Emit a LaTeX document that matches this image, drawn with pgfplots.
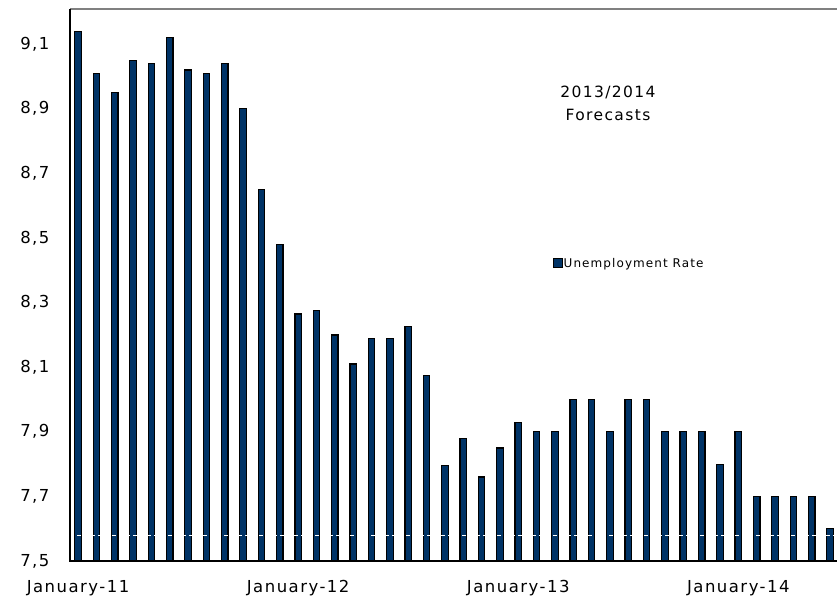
\documentclass[border=0pt]{standalone}
\usepackage{pgfplots}
\pgfplotsset{compat=1.18}
\usepackage{fontspec}
\setmainfont{DejaVu Sans}[LetterSpace=9]
\definecolor{navy}{RGB}{0,51,102}

\begin{document}
\begin{tikzpicture}
\useasboundingbox (0,0) rectangle (837pt,598pt);
\begin{axis}[
    at={(70pt,37pt)}, anchor=south west,
    scale only axis,
    width=767pt, height=552pt,
    xmin=-0.44, xmax=41.38,
    ymin=7.5, ymax=9.209,
    axis line style={draw=none},
    major tick length=0pt,
    xtick={0,12,24,36},
    xticklabels={January-11,January-12,January-13,January-14},
    ytick={7.5,7.7,7.9,8.1,8.3,8.5,8.7,8.9,9.1},
    /pgf/number format/assume math mode=true,
    /pgf/number format/fixed,
    /pgf/number format/fixed zerofill,
    /pgf/number format/precision=1,
    /pgf/number format/use comma,
    tick label style={font=\fontsize{16.5}{18}\selectfont},
    yticklabel style={xshift=-17pt},
    xticklabel style={yshift=-16pt},
    legend style={at={(0.6297,0.539)}, anchor=west, draw=none, fill=none,
      inner sep=0pt, font=\fontsize{12}{13}\selectfont,
      nodes={inner sep=0.5pt}},
    legend cell align=left,
    ]
\addplot[ybar, bar width=6.5pt, fill=navy, draw=black, line width=1.2pt,
    legend image code/.code={\draw[fill=navy,draw=black,line width=1pt] (0pt,-4.5pt) rectangle (9pt,4.5pt);}]
  coordinates {
  (0,9.14) (1,9.01) (2,8.95) (3,9.05) (4,9.04) (5,9.12) (6,9.02) (7,9.01) (8,9.04) (9,8.90)
  (10,8.65) (11,8.48) (12,8.265) (13,8.275) (14,8.20) (15,8.11) (16,8.19) (17,8.19) (18,8.225) (19,8.075)
  (20,7.795) (21,7.88) (22,7.76) (23,7.85) (24,7.93) (25,7.90) (26,7.90) (27,8.00) (28,8.00) (29,7.90)
  (30,8.00) (31,8.00) (32,7.90) (33,7.90) (34,7.90) (35,7.80) (36,7.90) (37,7.70) (38,7.70) (39,7.70)
  (40,7.70) (41,7.60)
  };
\addlegendentry{Unemployment Rate}
% white dashed reference line across the bars
\addplot[white, line width=0.8pt, dash pattern=on 4pt off 3pt, forget plot]
  coordinates {(-0.44,7.578) (41.38,7.578)};
\end{axis}
% frame: gray top line, thick black left and bottom spines
\draw[gray, line width=1.5pt] (70pt,589pt) -- (837pt,589pt);
\draw[black, line width=2pt] (70pt,589pt) -- (70pt,36pt);
\draw[black, line width=2pt] (69pt,37pt) -- (837pt,37pt);
\node[align=center, font=\fontsize{15.5}{23}\selectfont] at (608pt,495pt) {2013/2014\\Forecasts};
\end{tikzpicture}
\end{document}
